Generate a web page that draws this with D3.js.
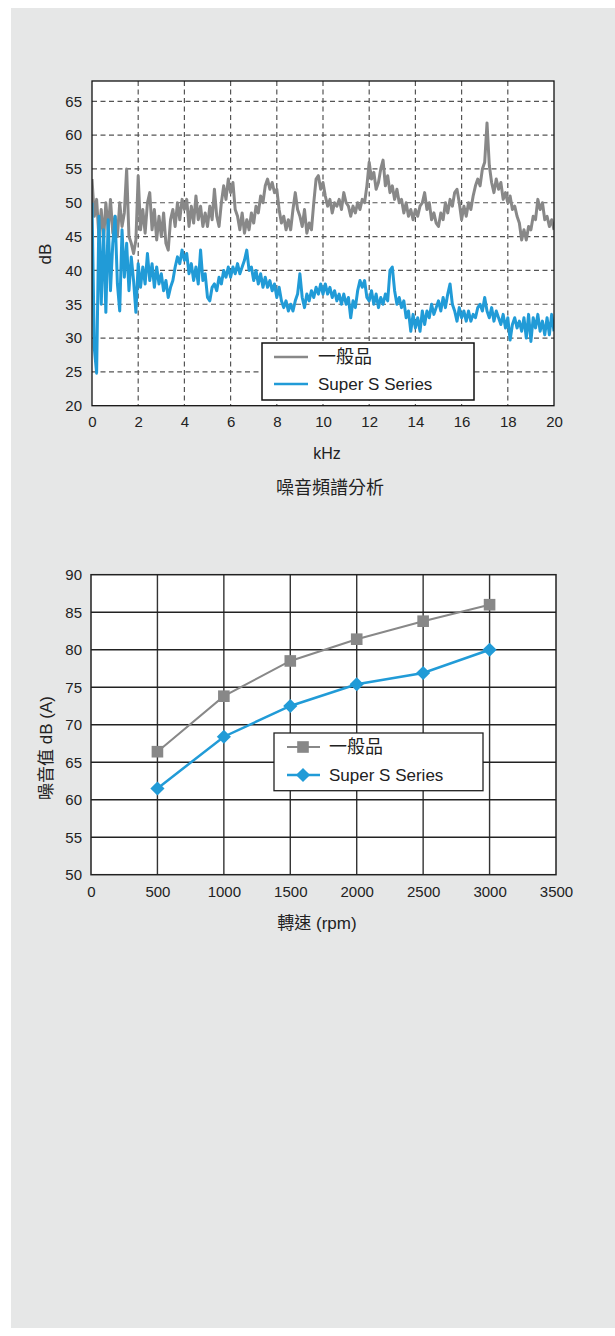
<!DOCTYPE html>
<html><head><meta charset="utf-8">
<script src="https://cdn.jsdelivr.net/npm/d3@7"></script>
<style>body{margin:0;background:#fff}</style>
</head><body><svg id="c" width="615" height="1336"></svg>
<script>
// ---------- Chart 1 data: noise spectrum (dB), sampled every 0.1 kHz from 0 to 20 kHz ----------
const specTitle = "噪音頻譜分析";
const specXLabel = "kHz";
const specYLabel = "dB";
const specSeriesNames = ["一般品", "Super S Series"];
const specStepKHz = 0.1;
const specGeneral = [
  53.5, 48, 50.5, 45, 49, 44.5, 50, 46, 50.5, 45.5,
  48, 45, 50, 46.5, 48.5, 55, 45, 44, 42.5, 44.5,
  54, 46, 49, 45.5, 50, 51.5, 46, 49, 44.5, 48,
  45, 48.5, 44, 43, 47.5, 49, 46.5, 50, 47.5, 50.5,
  49, 50.5, 46.5, 49.5, 47, 51, 47.5, 49.5, 46.5, 48.5,
  46.5, 49.5, 47.5, 52, 48, 46.5, 50, 52.5, 50.5, 53.5,
  51.5, 53, 49, 48, 46, 48.5, 45.5, 47.5, 46, 48.5,
  47, 49.5, 48.5, 51, 50, 52.5, 53.5, 52, 53, 51.5,
  52, 49, 47, 48, 46, 47.5, 46, 49, 51.5, 49,
  48, 46.5, 49, 45.5, 47, 46, 50, 53.5, 54, 52,
  53, 51, 49.5, 50.5, 48.5, 50, 49.5, 50.5, 49, 51.5,
  50, 49.5, 48, 49.5, 48.5, 50, 49, 50.5, 50, 52.5,
  56, 53.5, 54.5, 52, 53, 55, 56.3, 52.5, 54, 51.5,
  52.5, 50.5, 52, 50, 50.5, 48.5, 50, 48, 49, 47.5,
  49, 48, 49.5, 50, 51.5, 49, 50, 47.5, 48.5, 47,
  46.5, 48.5, 47.5, 50, 48.5, 50.5, 49.5, 51.5, 52, 50,
  47.5, 49.5, 48, 50, 49, 51, 52.5, 53.5, 52.5, 55,
  56, 61.8, 55.5, 53, 51.5, 53.5, 52, 53, 50.5, 51.5,
  50, 51, 49, 49.5, 48, 47, 44.5, 46, 44.5, 46.5,
  46, 48, 47.5, 50.5, 49, 50, 47.5, 48, 46.5, 47.5,
  46
];
const specSuperS = [
  50, 28.5, 24.8, 48, 35, 46, 33.8, 47.5, 37, 44,
  48, 38, 34, 46, 39, 44, 37, 42, 38.5, 33.8,
  41, 37.5, 40.5, 38, 42.5, 38.5, 41, 37.5, 40.5, 38,
  39.5, 37, 38.5, 36, 37.5, 38.5, 40.5, 42, 41, 43,
  41.5, 42.5, 39.5, 41, 38.5, 40.5, 38, 43, 38.5, 39.5,
  36, 35.5, 37.5, 38, 37, 39, 38, 40, 39, 40.5,
  39, 40.5, 39.5, 41, 39.5, 40.5, 41.5, 43, 40, 40.5,
  38.5, 40, 38, 39.5, 37.5, 39, 37.5, 38.5, 37, 38,
  36, 37.5, 35.5, 34.5, 35.5, 34, 35, 34, 35.5, 36.5,
  39.5, 36, 34.5, 36.5, 35.5, 37, 36, 37.5, 36.5, 38,
  36.5, 38, 36.5, 37.5, 36, 37, 35.5, 36.5, 35, 36.5,
  35, 36, 33, 35.5, 34.5, 37, 38.5, 37.5, 38.5, 36,
  35.5, 37, 35, 36.5, 34.5, 36, 35, 36.5, 35.5, 40,
  40.5, 37, 35, 36, 34.5, 35.5, 33, 34, 31, 33.5,
  31.5, 33, 31, 34, 32, 34, 33, 35, 33.5, 34.5,
  35.5, 34, 36, 34.5, 36.5, 38, 35, 34, 32.5, 34.5,
  33, 34, 32.5, 34, 32.5, 33.5, 33, 34.5, 35, 34,
  36, 34, 33, 34.5, 32.5, 34, 33, 32, 33.5, 31.5,
  33, 29.7, 32, 33, 31.5, 32.5, 31, 33, 30, 33.5,
  29.5, 33, 31.5, 33.5, 31, 32.5, 30.5, 33, 30.5, 33.5,
  31
];
const specXTicks = [0, 2, 4, 6, 8, 10, 12, 14, 16, 18, 20];
const specYTicks = [20, 25, 30, 35, 40, 45, 50, 55, 60, 65];
const specXDomain = [0, 20];
const specYDomain = [20, 68];

// ---------- Chart 2 data: noise level vs speed ----------
const rpmXLabel = "轉速 (rpm)";
const rpmYLabel = "噪音值 dB (A)";
const rpmSeriesNames = ["一般品", "Super S Series"];
const rpmValues = [500, 1000, 1500, 2000, 2500, 3000];
const noiseGeneral = [66.4, 73.8, 78.5, 81.4, 83.8, 86];
const noiseSuperS = [61.5, 68.4, 72.5, 75.4, 76.9, 80];
const rpmTicks = [0, 500, 1000, 1500, 2000, 2500, 3000, 3500];
const noiseTicks = [50, 55, 60, 65, 70, 75, 80, 85, 90];

// ---------- styles ----------
const GRAY = "#888888", BLUE = "#219bd7";
const NUM_FONT = "'Liberation Sans Narrow','Arial Narrow','Liberation Sans',Arial,sans-serif";
const TXT_FONT = "'Liberation Sans Narrow','Arial Narrow','Liberation Sans','Noto Sans CJK TC',sans-serif";
const CJK_FONT = "'Noto Sans CJK TC','Noto Sans CJK SC',sans-serif";

const svg = d3.select("#c");
svg.append("rect").attr("x", 11).attr("y", 8).attr("width", 604).attr("height", 1320).attr("fill", "#e6e7e7");

// ================= Chart 1 =================
(function () {
  const L = 92, R = 554, T = 81, B = 405.7;
  const x = d3.scaleLinear().domain(specXDomain).range([L, R]);
  const y = d3.scaleLinear().domain(specYDomain).range([B, T]);
  const g = svg.append("g");
  g.append("rect").attr("x", L).attr("y", T).attr("width", R - L).attr("height", B - T).attr("fill", "#fff");

  // dashed grid
  g.append("g").selectAll("line").data(specXTicks.filter(d => d > specXDomain[0] && d < specXDomain[1])).join("line")
    .attr("x1", d => x(d)).attr("x2", d => x(d)).attr("y1", T).attr("y2", B)
    .attr("stroke", "#555").attr("stroke-width", 1.2).attr("stroke-dasharray", "5,3.5");
  g.append("g").selectAll("line").data(specYTicks.filter(d => d > specYDomain[0])).join("line")
    .attr("x1", L).attr("x2", R).attr("y1", d => y(d)).attr("y2", d => y(d))
    .attr("stroke", "#555").attr("stroke-width", 1.2).attr("stroke-dasharray", "5,3.5");

  // series
  svg.append("clipPath").attr("id", "clip1").append("rect").attr("x", L).attr("y", T).attr("width", R - L).attr("height", B - T);
  const line = d3.line().x((d, i) => x(i * specStepKHz)).y(d => y(d));
  g.append("path").datum(specGeneral).attr("d", line).attr("fill", "none").attr("stroke", GRAY)
    .attr("stroke-width", 3).attr("stroke-linejoin", "round").attr("clip-path", "url(#clip1)");
  g.append("path").datum(specSuperS).attr("d", line).attr("fill", "none").attr("stroke", BLUE)
    .attr("stroke-width", 3).attr("stroke-linejoin", "round").attr("clip-path", "url(#clip1)");

  // frame
  g.append("rect").attr("x", L).attr("y", T).attr("width", R - L).attr("height", B - T)
    .attr("fill", "none").attr("stroke", "#111").attr("stroke-width", 1.3);

  // axes
  const ax = g.append("g").attr("transform", `translate(0,${B})`)
    .call(d3.axisBottom(x).tickValues(specXTicks).tickSize(0).tickPadding(11));
  const ay = g.append("g").attr("transform", `translate(${L},0)`)
    .call(d3.axisLeft(y).tickValues(specYTicks).tickSize(0).tickPadding(10));
  [ax, ay].forEach(a => {
    a.select(".domain").remove();
    a.selectAll("text").attr("font-family", NUM_FONT).attr("font-size", 15).attr("fill", "#222");
  });

  g.append("text").attr("x", 327).attr("y", 459).attr("text-anchor", "middle")
    .attr("font-family", NUM_FONT).attr("font-size", 16).attr("fill", "#222").text(specXLabel);
  g.append("text").attr("transform", "translate(51,254) rotate(-90)").attr("text-anchor", "middle")
    .attr("font-family", NUM_FONT).attr("font-size", 17).attr("fill", "#222").text(specYLabel);
  g.append("text").attr("x", 330).attr("y", 494).attr("text-anchor", "middle")
    .attr("font-family", CJK_FONT).attr("font-size", 18).attr("fill", "#222").text(specTitle);

  // legend
  const lg = g.append("g");
  lg.append("rect").attr("x", 262).attr("y", 343).attr("width", 212).attr("height", 57)
    .attr("fill", "#fff").attr("stroke", "#111").attr("stroke-width", 1.5);
  const colors = [GRAY, BLUE];
  const ly = [357, 384];
  specSeriesNames.forEach((n, i) => {
    lg.append("line").attr("x1", 274).attr("x2", 308).attr("y1", ly[i]).attr("y2", ly[i])
      .attr("stroke", colors[i]).attr("stroke-width", 2.5);
    lg.append("text").attr("x", 318).attr("y", ly[i]).attr("dominant-baseline", "central")
      .attr("font-family", TXT_FONT).attr("font-size", i === 0 ? 18 : 17).attr("fill", "#222").text(n);
  });
})();

// ================= Chart 2 =================
(function () {
  const L = 91, R = 556, T = 574.7, B = 874.7;
  const x = d3.scaleLinear().domain([rpmTicks[0], rpmTicks[rpmTicks.length - 1]]).range([L, R]);
  const y = d3.scaleLinear().domain([noiseTicks[0], noiseTicks[noiseTicks.length - 1]]).range([B, T]);
  const g = svg.append("g");
  g.append("rect").attr("x", L).attr("y", T).attr("width", R - L).attr("height", B - T).attr("fill", "#fff");

  g.append("g").selectAll("line").data(rpmTicks.slice(1, -1)).join("line")
    .attr("x1", d => x(d)).attr("x2", d => x(d)).attr("y1", T).attr("y2", B)
    .attr("stroke", "#333").attr("stroke-width", 1.4);
  g.append("g").selectAll("line").data(noiseTicks.slice(1, -1)).join("line")
    .attr("x1", L).attr("x2", R).attr("y1", d => y(d)).attr("y2", d => y(d))
    .attr("stroke", "#222").attr("stroke-width", 1.4);
  g.append("rect").attr("x", L).attr("y", T).attr("width", R - L).attr("height", B - T)
    .attr("fill", "none").attr("stroke", "#222").attr("stroke-width", 1.5);

  const series = [
    { name: rpmSeriesNames[0], vals: noiseGeneral, color: GRAY, size: 135, rot: 0, w: 2 },
    { name: rpmSeriesNames[1], vals: noiseSuperS, color: BLUE, size: 100, rot: 45, w: 2.5 }
  ];
  const line = d3.line().x((d, i) => x(rpmValues[i])).y(d => y(d));
  series.forEach(s => {
    g.append("path").datum(s.vals).attr("d", line).attr("fill", "none").attr("stroke", s.color).attr("stroke-width", s.w);
    g.append("g").selectAll("path").data(s.vals).join("path")
      .attr("transform", (d, i) => `translate(${x(rpmValues[i])},${y(d)}) rotate(${s.rot})`)
      .attr("d", d3.symbol(d3.symbolSquare, s.size)).attr("fill", s.color);
  });

  const ax = g.append("g").attr("transform", `translate(0,${B})`)
    .call(d3.axisBottom(x).tickValues(rpmTicks).tickSize(0).tickPadding(12).tickFormat(d3.format("d")));
  const ay = g.append("g").attr("transform", `translate(${L},0)`)
    .call(d3.axisLeft(y).tickValues(noiseTicks).tickSize(0).tickPadding(9));
  [ax, ay].forEach(a => {
    a.select(".domain").remove();
    a.selectAll("text").attr("font-family", NUM_FONT).attr("font-size", 15).attr("fill", "#222");
  });

  g.append("text").attr("x", 317).attr("y", 929).attr("text-anchor", "middle")
    .attr("font-family", TXT_FONT).attr("font-size", 17).attr("fill", "#222").text(rpmXLabel);
  g.append("text").attr("transform", "translate(52,748) rotate(-90)").attr("text-anchor", "middle")
    .attr("font-family", TXT_FONT).attr("font-size", 17).attr("fill", "#222").text(rpmYLabel);

  const lg = g.append("g");
  lg.append("rect").attr("x", 274).attr("y", 733).attr("width", 209).attr("height", 57.7)
    .attr("fill", "#fff").attr("stroke", "#222").attr("stroke-width", 1.3);
  const ly = [747, 775];
  series.forEach((s, i) => {
    lg.append("line").attr("x1", 287).attr("x2", 320).attr("y1", ly[i]).attr("y2", ly[i])
      .attr("stroke", s.color).attr("stroke-width", s.w);
    lg.append("path").attr("transform", `translate(303,${ly[i]}) rotate(${s.rot})`)
      .attr("d", d3.symbol(d3.symbolSquare, s.size)).attr("fill", s.color);
    lg.append("text").attr("x", 329).attr("y", ly[i]).attr("dominant-baseline", "central")
      .attr("font-family", TXT_FONT).attr("font-size", i === 0 ? 18 : 17).attr("fill", "#222").text(s.name);
  });
})();
</script>
</body></html>
